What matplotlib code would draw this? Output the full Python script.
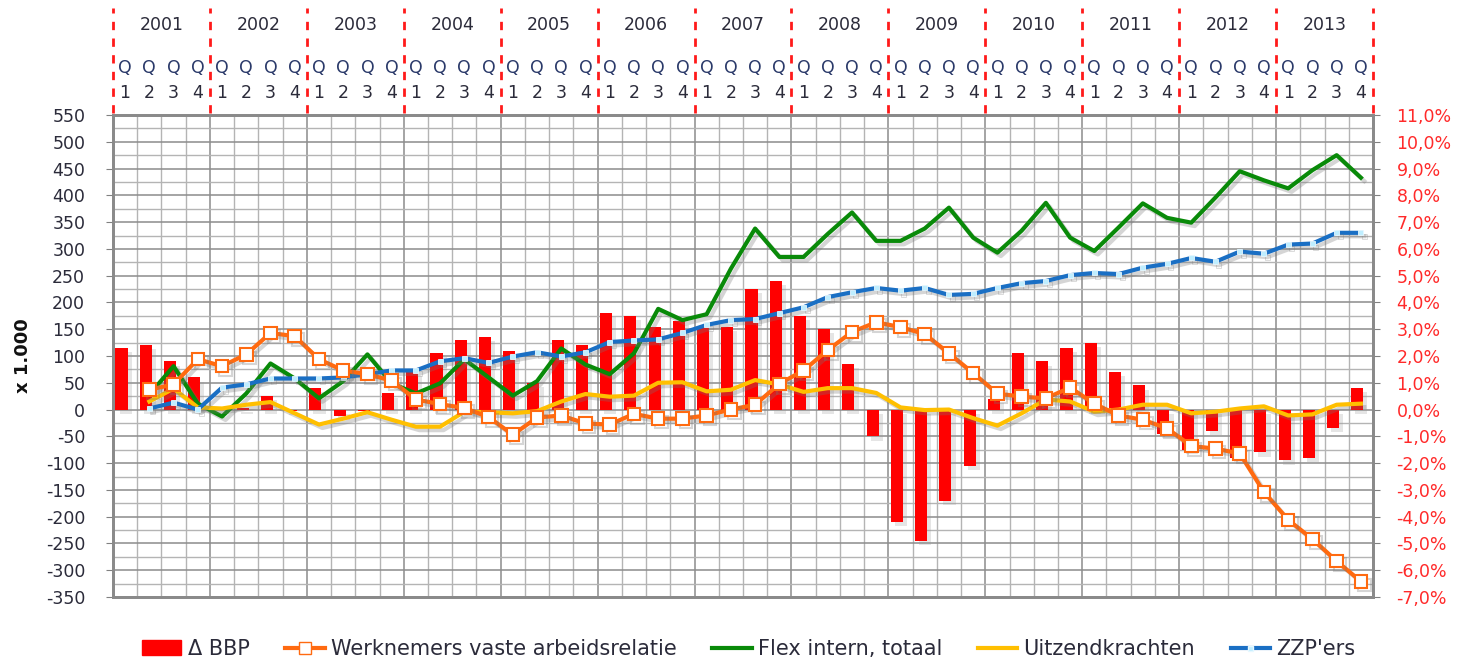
import matplotlib
matplotlib.use("Agg")
import matplotlib.pyplot as plt
import matplotlib.patheffects as pe
import matplotlib.transforms as mtrans
from matplotlib.lines import Line2D
from matplotlib.patches import Patch
from matplotlib.ticker import MultipleLocator, FixedLocator
import numpy as np

plt.rcParams['font.family'] = ['DejaVu Sans']

years = ['2001', '2002', '2003', '2004', '2005', '2006', '2007',
         '2008', '2009', '2010', '2011', '2012', '2013']
quarters = ['1', '2', '3', '4']

# Δ BBP in % (one per quarter, 2001Q1 .. 2013Q4)
bbp = [2.3, 2.4, 1.8, 1.2,
       0.1, 0.05, 0.5, -0.05,
       0.8, -0.25, -0.05, 0.6,
       1.4, 2.1, 2.6, 2.7,
       2.2, 1.0, 2.6, 2.4,
       3.6, 3.5, 3.1, 3.3,
       3.1, 3.1, 4.5, 4.8,
       3.5, 3.0, 1.7, -1.0,
       -4.2, -4.9, -3.4, -2.1,
       0.4, 2.1, 1.8, 2.3,
       2.5, 1.4, 0.9, -0.9,
       -1.5, -0.8, -1.8, -1.6,
       -1.9, -1.8, -0.7, 0.8]

# Lines (x 1.000), 2001Q2 .. 2013Q4
vaste = [37, 47, 94, 81, 103, 143, 137, 94, 73, 66, 54,
         19, 10, 3, -14, -47, -15, -11, -26, -28, -8, -17,
         -17, -11, 0, 9, 48, 73, 111, 145, 163, 154, 141,
         105, 68, 30, 24, 21, 41, 11, -11, -19, -35, -68,
         -73, -82, -154, -206, -242, -283, -321]
flex = [28, 81, 11, -13, 30, 86, 58, 21, 53, 103, 49,
        30, 49, 94, 60, 26, 53, 114, 84, 66, 105, 188,
        167, 178, 263, 338, 285, 285, 328, 368, 315, 315, 338,
        377, 321, 293, 334, 386, 321, 296, 340, 385, 358, 349,
        396, 445, 428, 413, 447, 475, 433]
uitzend = [15, 39, 4, 2, 9, 14, -7, -28, -17, -5, -19,
           -32, -32, -4, -5, -7, -3, 15, 29, 24, 26, 50,
           51, 34, 37, 55, 47, 33, 40, 40, 31, 4, -1,
           0, -16, -30, -7, 19, 15, -4, 0, 9, 9, -7,
           -4, 2, 6, -11, -9, 9, 11]
zzp = [2, 13, 0, 41, 47, 58, 58, 58, 60, 66, 73,
       73, 90, 96, 87, 99, 107, 99, 107, 126, 129, 131,
       143, 158, 167, 169, 180, 191, 210, 219, 227, 222, 227,
       214, 216, 227, 236, 240, 251, 255, 253, 265, 272, 283,
       276, 295, 291, 308, 310, 330, 330]

labels = ['\u0394 BBP', 'Werknemers vaste arbeidsrelatie', 'Flex intern, totaal',
          'Uitzendkrachten', "ZZP'ers"]

n = len(years) * 4
xb = np.arange(n)
xl = np.arange(1, n)

W, H = 1468, 663
fig = plt.figure(figsize=(W / 100, H / 100), dpi=100)
left, right, top, bottom = 113, 1373, 115, 597
ax2 = fig.add_axes([left / W, 1 - bottom / H, (right - left) / W, (bottom - top) / H])
ax = ax2.twinx()
ax.set_zorder(2)
ax2.set_zorder(1)
ax.patch.set_visible(False)

# bars on the percentage axis
ax2.set_ylim(-7, 11)
ax2.bar(xb - 0.15, bbp, width=0.5, color='#ff0000', zorder=3,
        path_effects=[pe.SimplePatchShadow(offset=(3, -3), shadow_rgbFace='#999999', alpha=0.25), pe.Normal()])
ax2.set_xlim(-0.5, n - 0.5)

# grid on bar axis
ax2.yaxis.set_major_locator(MultipleLocator(1))
ax2.yaxis.set_minor_locator(MultipleLocator(0.5))
ax2.xaxis.set_major_locator(FixedLocator(np.arange(-0.5, n, 4)))
ax2.xaxis.set_minor_locator(FixedLocator(np.arange(-0.5, n, 1)))
ax2.grid(True, which='major', axis='both', color='#8c8c8c', lw=1.1, zorder=0)
ax2.grid(True, which='minor', axis='both', color='#b4b4b4', lw=1.0, zorder=0)
ax2.set_axisbelow(True)
ax2.tick_params(axis='x', which='both', length=0, labelbottom=False)

# percentage labels on the right
ax2.yaxis.tick_right()
ax2.set_yticks(np.arange(-7, 11.01, 1))
ax2.set_yticklabels([('%.1f%%' % v).replace('.', ',') for v in np.arange(-7, 11.01, 1)],
                    color='#ff2a2a', fontsize=12.5)
ax2.tick_params(axis='y', which='major', length=5, color='#808080', pad=12)
ax2.tick_params(axis='y', which='minor', length=0)

# lines on the left axis
ax.yaxis.tick_left()
ax.set_ylim(-350, 550)
ax.set_yticks(np.arange(-350, 551, 50))
ax.set_yticklabels([str(v) for v in range(-350, 551, 50)], color='#2b2b3a', fontsize=12.5)
ax.tick_params(axis='y', length=5, color='#808080', pad=15)

sh = [pe.SimpleLineShadow(offset=(2.5, -2.5), shadow_color='#777777', alpha=0.3), pe.Normal()]
ax.plot(xl, flex, color='#098a09', lw=3, zorder=3, path_effects=sh)
ax.plot(xl, uitzend, color='#ffbf00', lw=3, zorder=4, path_effects=sh)
ax.plot(xl, zzp, color='#1a6fc4', lw=3, marker='s', ms=3.6, mfc='#bfeeff', mec='#e6f8ff', mew=0.6,
        zorder=5, path_effects=sh)
ax.plot(xl, vaste, color='#ff6a10', lw=3, marker='s', ms=9, mfc='white', mec='#ff6a10', mew=1.5,
        zorder=6, path_effects=sh)

for a in (ax, ax2):
    for s in a.spines.values():
        s.set_color('#8a8a8a')
        s.set_linewidth(2)

ax.set_ylabel('x 1.000', fontsize=13, fontweight='bold', color='#111111', labelpad=10)
ax.yaxis.set_label_position('left')

# header with years and quarters
trans = mtrans.blended_transform_factory(ax.transData, ax.transAxes)
for k, y in enumerate(years):
    ax.text(4 * k + 1.5, 1.187, y, transform=trans, ha='center', va='center',
            fontsize=12.5, color='#2b2b3a', clip_on=False)
    for q in range(4):
        ax.text(4 * k + q, 1.097, 'Q', transform=trans, ha='center', va='center',
                fontsize=12.5, color='#2b3a6a', clip_on=False)
        ax.text(4 * k + q, 1.046, quarters[q], transform=trans, ha='center', va='center',
                fontsize=12.5, color='#2b2b3a', clip_on=False)
for k in range(len(years) + 1):
    ax.add_line(Line2D([4 * k - 0.5, 4 * k - 0.5], [1.005, 1.222], transform=trans,
                       color='#ff1a1a', lw=2, ls=(0, (3, 3)), clip_on=False))

handles = [Patch(facecolor='#ff0000', edgecolor='#ff0000'),
           Line2D([], [], color='#ff6a10', lw=3, marker='s', ms=8, mfc='white', mec='#ff6a10'),
           Line2D([], [], color='#098a09', lw=3),
           Line2D([], [], color='#ffbf00', lw=3),
           Line2D([], [], color='#1a6fc4', lw=3, marker='s', ms=3.6, mfc='#bfeeff', mec='#e6f8ff')]
fig.legend(handles, labels, loc='lower center', bbox_to_anchor=(0.51, -0.022), ncol=5,
           frameon=False, fontsize=15, handlelength=1.9, columnspacing=1.7, handletextpad=0.3,
           numpoints=1, labelcolor='#2b2b3a')

fig.savefig('out.png', dpi=100)
